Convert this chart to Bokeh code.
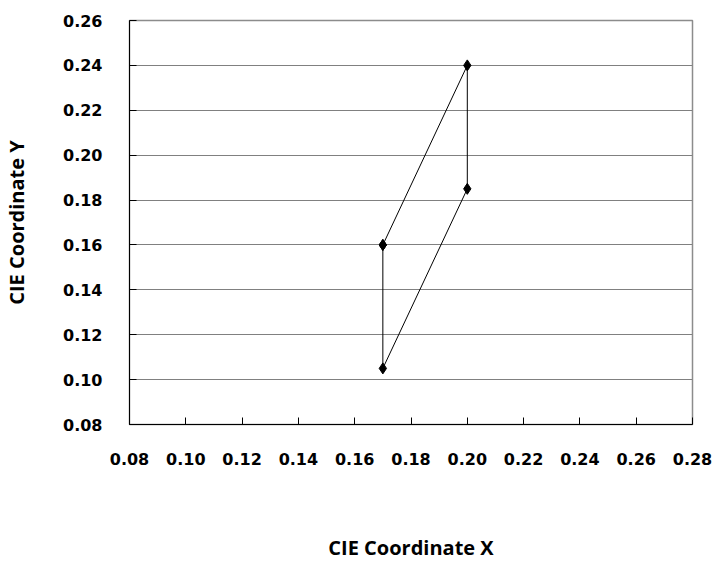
from bokeh.plotting import figure
from bokeh.models import FixedTicker, PrintfTickFormatter, Range1d
from bokeh.embed import file_html
from bokeh.resources import INLINE

# Data
cie_x = [0.17, 0.20, 0.20, 0.17, 0.17]
cie_y = [0.16, 0.24, 0.185, 0.105, 0.16]
x_ticks = [0.08, 0.10, 0.12, 0.14, 0.16, 0.18, 0.20, 0.22, 0.24, 0.26, 0.28]
y_ticks = [0.08, 0.10, 0.12, 0.14, 0.16, 0.18, 0.20, 0.22, 0.24, 0.26]

p = figure(width=715, height=573, output_backend="svg", toolbar_location=None,
           x_range=Range1d(0.08, 0.28), y_range=Range1d(0.08, 0.26),
           min_border_left=127, min_border_right=23, min_border_top=20, min_border_bottom=149)

p.line(cie_x, cie_y, line_color="black", line_width=1)
p.scatter(cie_x, cie_y, marker="diamond", size=11, fill_color="black", line_color="black")

p.outline_line_color = "#8c8c8c"
p.outline_line_width = 1.5
p.xgrid.grid_line_color = None
p.ygrid.grid_line_color = "#808080"
p.ygrid.grid_line_width = 1
p.ygrid.ticker = FixedTicker(ticks=y_ticks)

for ax in (p.xaxis[0], p.yaxis[0]):
    ax.axis_line_color = "black"
    ax.axis_line_width = 1
    ax.major_tick_line_color = "black"
    ax.major_tick_in = 7
    ax.major_tick_out = 0
    ax.minor_tick_line_color = None
    ax.formatter = PrintfTickFormatter(format="%.2f")
    ax.major_label_text_font = "DejaVu Sans"
    ax.major_label_text_font_style = "bold"
    ax.major_label_text_font_size = "16px"
    ax.major_label_text_color = "black"
    ax.axis_label_text_font = "Open Sans"
    ax.axis_label_text_font_style = "bold"
    ax.axis_label_text_font_size = "20px"
    ax.axis_label_text_color = "black"

p.xaxis.ticker = FixedTicker(ticks=x_ticks)
p.yaxis.ticker = FixedTicker(ticks=y_ticks)
p.xaxis.axis_label = "CIE Coordinate X"
p.yaxis.axis_label = "CIE Coordinate Y"
p.xaxis.major_label_standoff = 28
p.yaxis.major_label_standoff = 27
p.xaxis.axis_label_standoff = 66
p.yaxis.axis_label_standoff = 30

open("out.html", "w").write(file_html(p, INLINE))
